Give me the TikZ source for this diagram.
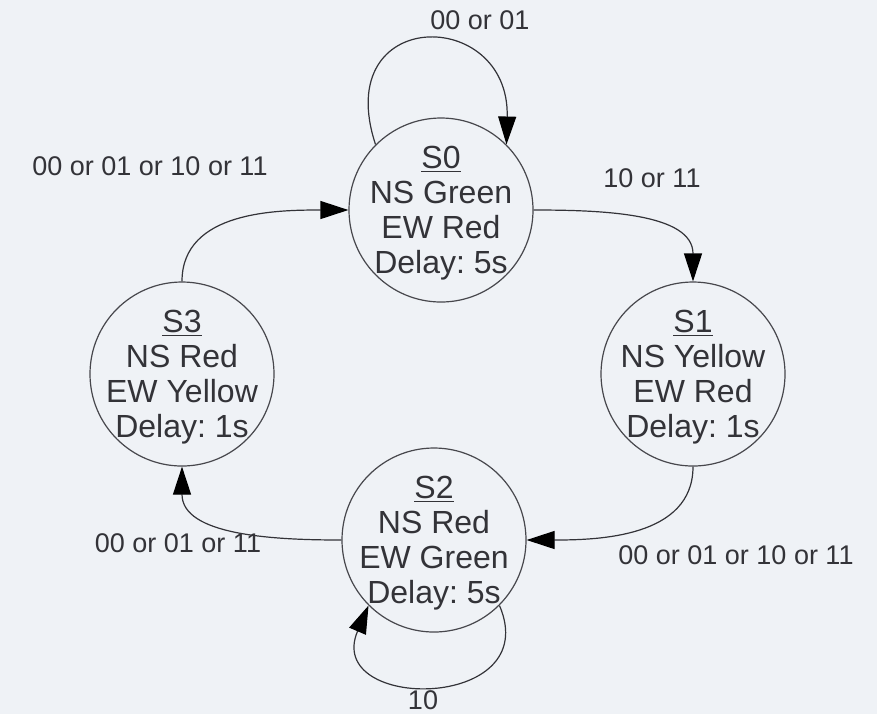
\documentclass[tikz,border=0pt]{standalone}
\usepackage{fontspec}
\setmainfont{Liberation Sans}
\usepackage{tikz}
\usepackage{xcolor}
\usetikzlibrary{arrows.meta}
\frenchspacing
\definecolor{page-bg}{HTML}{EFF2F6}
\definecolor{ink}{HTML}{333338}
\tikzset{
    state-circle/.style = {draw=ink!90, circle, line width=0.6pt, minimum size=92pt, inner sep=0pt},
    state-text/.style = {text=ink, align=center, inner sep=0pt, yshift=-1.5pt, font=\fontsize{16}{17.6}\selectfont},
    edge-label/.style = {text=ink, inner sep=0pt, font=\fontsize{13.5}{16}\selectfont},
    transition/.style = {draw=ink, line width=0.6pt, -{Triangle[length=14pt, width=9pt, color=black]}},
}

\begin{document}
\begin{tikzpicture}[x=0.5pt, y=-0.5pt]
\fill[page-bg] (0,0) rectangle (877,714);
\useasboundingbox (0,0) rectangle (877,714);

\node[state-circle, label={[state-text]center:{\underline{S0}\\NS Green\\EW Red\\Delay: 5s}}] (s0) at (441,210) {};
\node[state-circle, label={[state-text]center:{\underline{S1}\\NS Yellow\\EW Red\\Delay: 1s}}] (s1) at (693,374) {};
\node[state-circle, label={[state-text]center:{\underline{S2}\\NS Red\\EW Green\\Delay: 5s}}] (s2) at (434,540) {};
\node[state-circle, label={[state-text]center:{\underline{S3}\\NS Red\\EW Yellow\\Delay: 1s}}] (s3) at (182,374) {};

\draw[transition] (s0.135) .. controls (330,6) and (510,6) .. (s0.45);
\draw[transition] (s0.east) to[out=0, in=90] (s1.north);
\draw[transition] (s1.south) to[out=-90, in=0] (s2.east);
\draw[transition] (s2.west) to[out=180, in=-90] (s3.south);
\draw[transition] (s3.north) to[out=90, in=180] (s0.west);
\draw[transition] (s2.-45) .. controls (545,712) and (323,712) .. (s2.-135);

\node[edge-label] (l-s0-s0) at (480,20) {00 or 01};
\node[edge-label] (l-s3-s0) at (150,166) {00 or 01 or 10 or 11};
\node[edge-label] (l-s0-s1) at (652,178) {10 or 11};
\node[edge-label] (l-s1-s2) at (736,555) {00 or 01 or 10 or 11};
\node[edge-label] (l-s2-s3) at (178,543) {00 or 01 or 11};
\node[edge-label] (l-s2-s2) at (423,700) {10};
\end{tikzpicture}
\end{document}
